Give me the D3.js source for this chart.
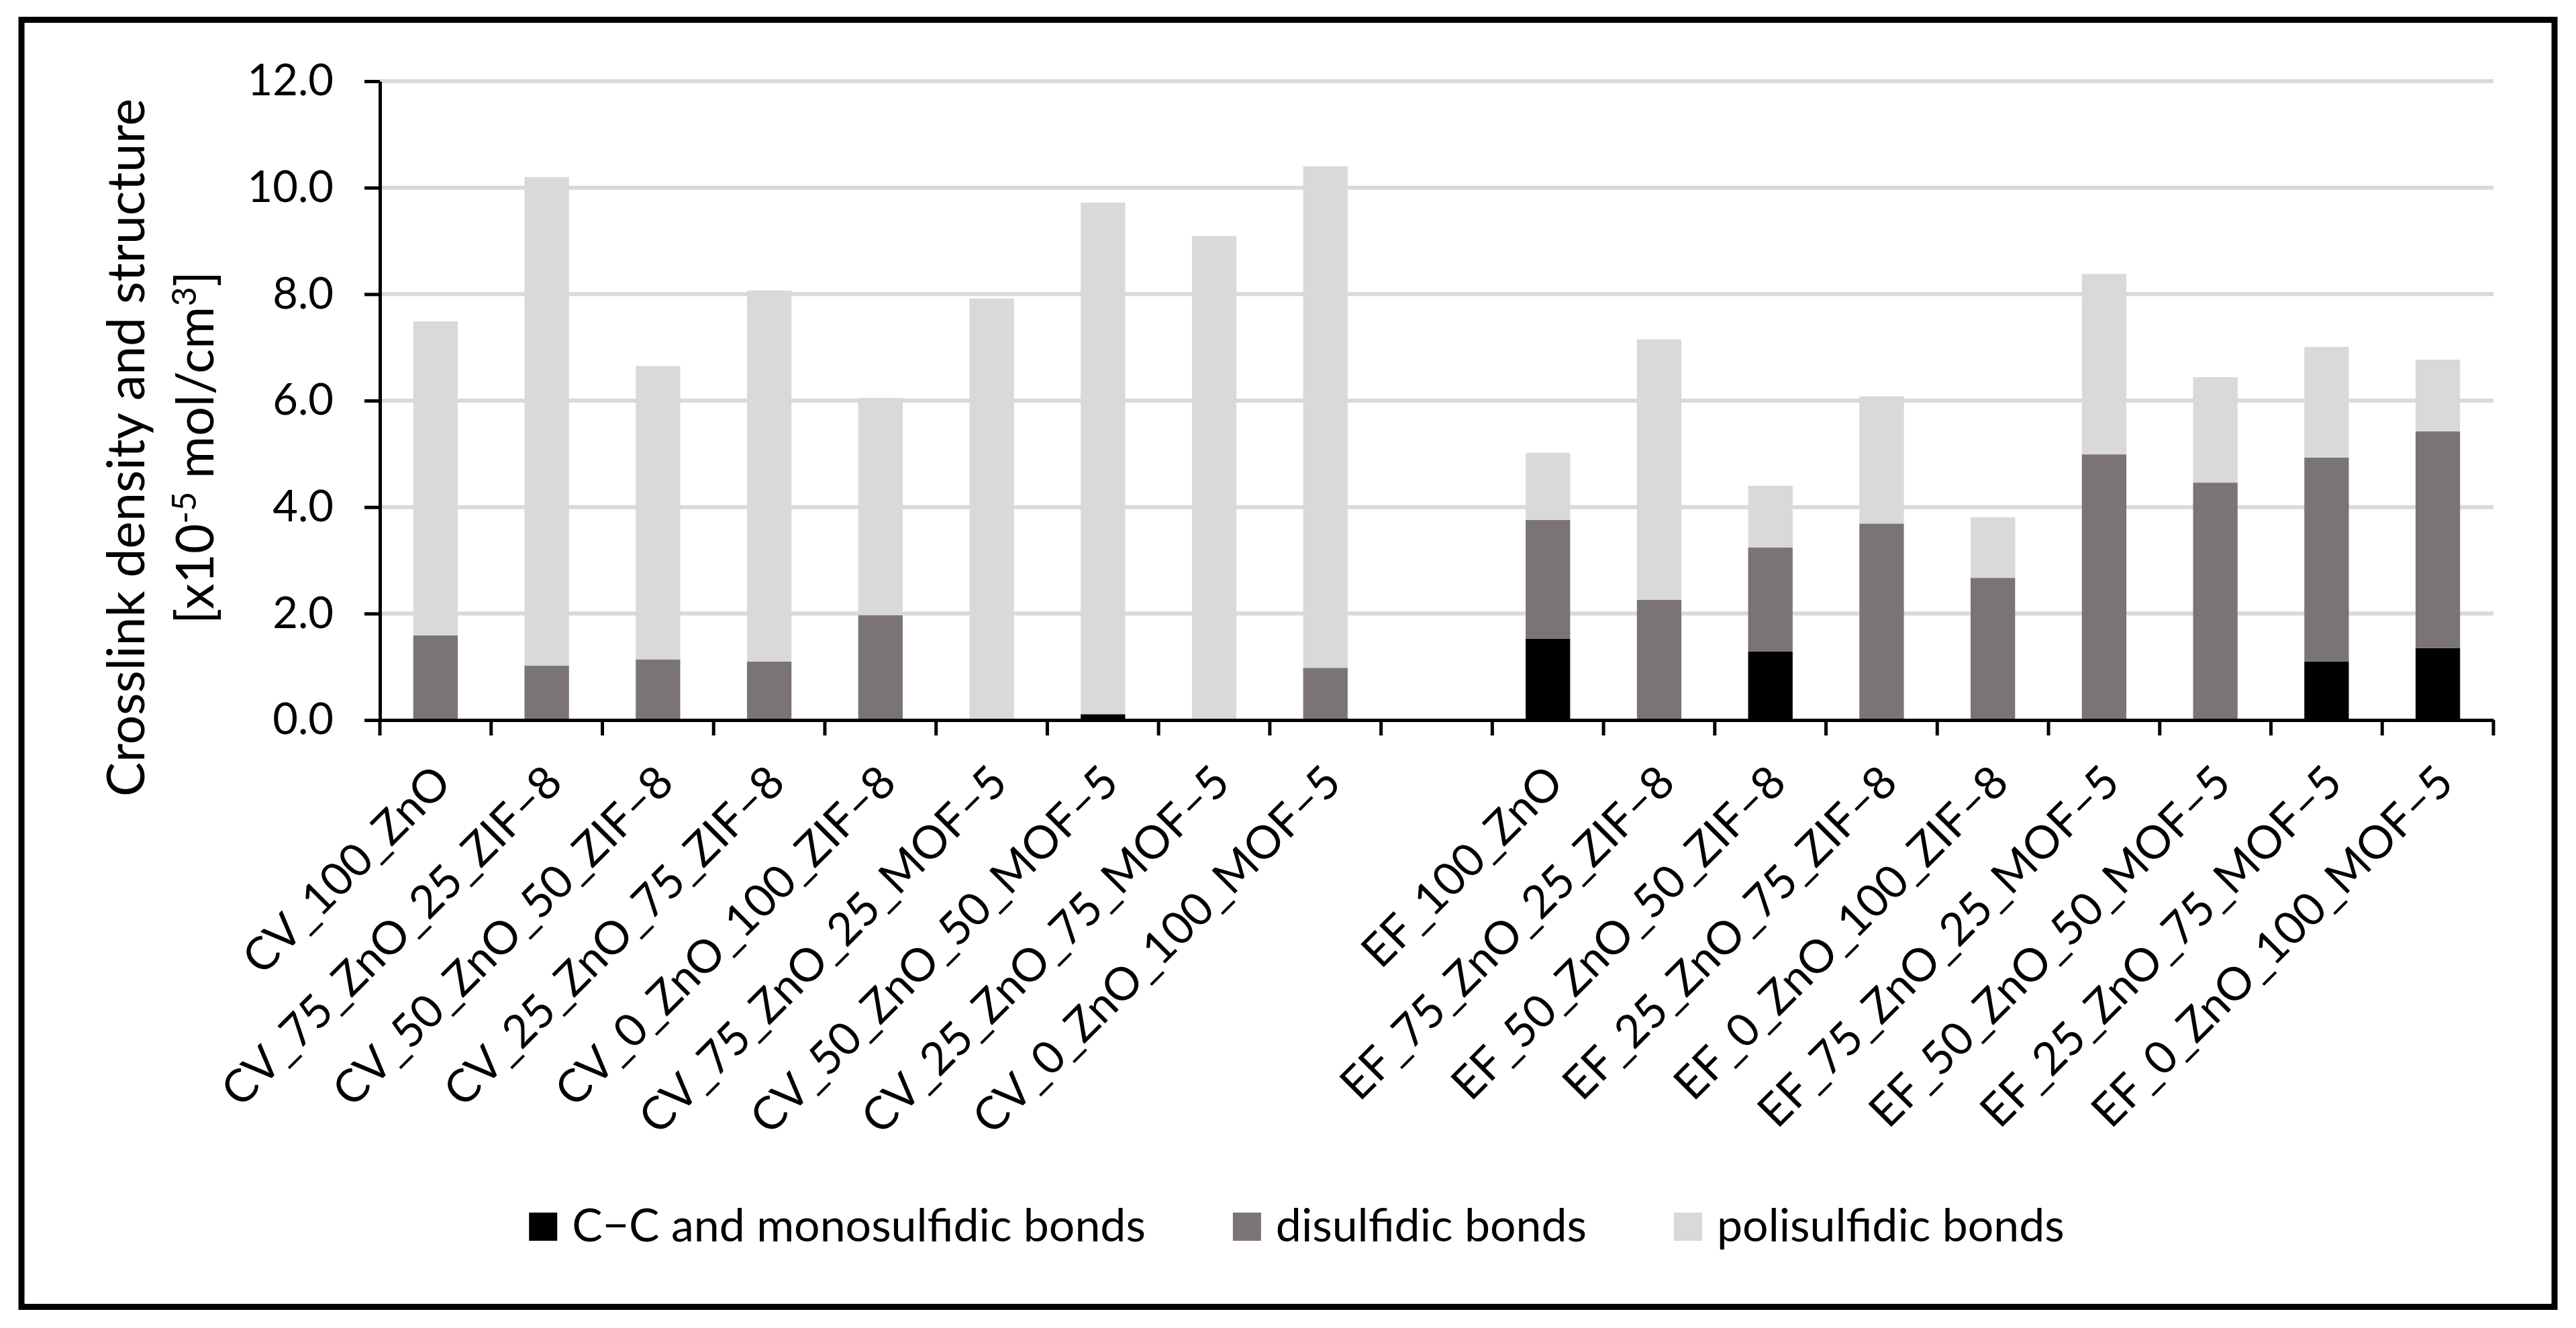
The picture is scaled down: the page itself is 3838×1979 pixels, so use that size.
<!DOCTYPE html>
<html>
<head>
<meta charset="utf-8">
<script src="https://cdnjs.cloudflare.com/ajax/libs/d3/7.8.5/d3.min.js"></script>
<style>
  body { margin: 0; background: #fff; }
  svg text { font-family: Lato, "Open Sans", sans-serif; fill: #000; }
</style>
</head>
<body>
<svg id="chart"></svg>
<script>
// sample names, "" is the empty gap between the CV and EF groups
var categories = [
  "CV_100_ZnO", "CV_75_ZnO_25_ZIF–8", "CV_50_ZnO_50_ZIF–8", "CV_25_ZnO_75_ZIF–8", "CV_0_ZnO_100_ZIF–8",
  "CV_75_ZnO_25_MOF–5", "CV_50_ZnO_50_MOF–5", "CV_25_ZnO_75_MOF–5", "CV_0_ZnO_100_MOF–5",
  "",
  "EF_100_ZnO", "EF_75_ZnO_25_ZIF–8", "EF_50_ZnO_50_ZIF–8", "EF_25_ZnO_75_ZIF–8", "EF_0_ZnO_100_ZIF–8",
  "EF_75_ZnO_25_MOF–5", "EF_50_ZnO_50_MOF–5", "EF_25_ZnO_75_MOF–5", "EF_0_ZnO_100_MOF–5"
]
var monosulfidic = [0, 0, 0, 0, 0, 0, 0.11, 0, 0, 0, 1.53, 0, 1.29, 0, 0, 0, 0, 1.10, 1.35]
var disulfidic = [1.59, 1.02, 1.14, 1.10, 1.97, 0, 0, 0, 0.98, 0, 2.23, 2.26, 1.95, 3.69, 2.67, 4.99, 4.46, 3.83, 4.07]
var polisulfidic = [5.90, 9.18, 5.51, 6.97, 4.08, 7.92, 9.61, 9.09, 9.42, 0, 1.26, 4.89, 1.16, 2.39, 1.14, 3.39, 1.98, 2.08, 1.35]
var seriesNames = ["C−C and monosulfidic bonds", "disulfidic bonds", "polisulfidic bonds"]
var yTicks = [0, 2, 4, 6, 8, 10, 12]

var colors = ["#000000", "#7a7474", "#d9d9d9"]
var keys = ["mono", "di", "poli"]

var dimensions = {
  width: 3838,
  height: 1979,
  margin: {
    top: 121,
    bottom: 906,
    right: 123,
    left: 566
  }
}

var data = categories.map((c, i) => {
  return {
    name: c,
    mono: monosulfidic[i],
    di: disulfidic[i],
    poli: polisulfidic[i]
  }
})
console.log(data)

var svg = d3.select("#chart")
  .attr("width", dimensions.width)
  .attr("height", dimensions.height)

// outer frame
svg.append("rect")
  .attr("x", 32)
  .attr("y", 29.5)
  .attr("width", dimensions.width - 64)
  .attr("height", dimensions.height - 61)
  .attr("fill", "none")
  .attr("stroke", "#000")
  .attr("stroke-width", 9)

var xScale = d3.scaleBand()
  .domain(categories)
  .range([dimensions.margin.left, dimensions.width - dimensions.margin.right])
  .paddingInner(0.6)
  .paddingOuter(0.3)
var yScale = d3.scaleLinear()
  .domain([0, 12])
  .range([dimensions.height - dimensions.margin.bottom, dimensions.margin.top])

// gridlines
svg.append("g")
  .selectAll("line")
  .data(yTicks.filter(d => d > 0))
  .enter()
  .append("line")
  .attr("x1", dimensions.margin.left)
  .attr("x2", dimensions.width - dimensions.margin.right)
  .attr("y1", d => yScale(d))
  .attr("y2", d => yScale(d))
  .attr("stroke", "#d9d9d9")
  .attr("stroke-width", 6)

var stacked = d3.stack().keys(keys)(data)

svg.append("g")
  .selectAll("g")
  .data(stacked)
  .enter()
  .append("g")
  .attr("fill", (d, i) => colors[i])
  .selectAll("rect")
  .data(d => d)
  .enter()
  .append("rect")
  .attr("x", d => xScale(d.data.name))
  .attr("width", xScale.bandwidth())
  .attr("y", d => yScale(d[1]))
  .attr("height", d => yScale(d[0]) - yScale(d[1]))

// y axis
var yAxisgen = d3.axisLeft(yScale)
  .tickValues(yTicks)
  .tickFormat(d3.format(".1f"))
  .tickSize(23)
  .tickSizeOuter(0)
  .tickPadding(46)
var yAxis = svg.append("g")
  .attr("transform", `translate(${dimensions.margin.left},0)`)
  .call(yAxisgen)
yAxis.selectAll("path, line").attr("stroke", "#000").attr("stroke-width", 5)
yAxis.selectAll("text").style("font-size", "65px")

// x axis, ticks between the categories like excel does
var baseY = yScale(0)
var xAxisgen = d3.axisBottom(xScale).tickSize(0).tickSizeOuter(0)
var xAxis = svg.append("g")
  .attr("transform", `translate(0,${baseY})`)
  .call(xAxisgen)
xAxis.select(".domain").attr("stroke", "#000").attr("stroke-width", 5)
xAxis.selectAll("text")
  .style("font-size", "68px")
  .attr("text-anchor", "end")
  .attr("y", 0)
  .attr("dy", "0.35em")
  .attr("transform", "translate(10,80) rotate(-45)")

var bounds = categories.map(c => xScale(c) - xScale.step() * xScale.paddingOuter())
bounds.push(xScale.range()[1])
xAxis.selectAll(".bound")
  .data(bounds)
  .enter()
  .append("line")
  .attr("class", "bound")
  .attr("x1", d => d)
  .attr("x2", d => d)
  .attr("y1", 0)
  .attr("y2", 23)
  .attr("stroke", "#000")
  .attr("stroke-width", 5)

// y title, two lines
var titleY = 667
svg.append("text")
  .attr("transform", `translate(215,${titleY}) rotate(-90)`)
  .attr("text-anchor", "middle")
  .style("font-size", "77px")
  .text("Crosslink density and structure")
var t2 = svg.append("text")
  .attr("transform", `translate(318,${titleY}) rotate(-90)`)
  .attr("text-anchor", "middle")
  .style("font-size", "77px")
t2.append("tspan").text("[x10")
t2.append("tspan").attr("dy", -26).style("font-size", "50px").text("-5")
t2.append("tspan").attr("dy", 26).text(" mol/cm")
t2.append("tspan").attr("dy", -26).style("font-size", "50px").text("3")
t2.append("tspan").attr("dy", 26).text("]")

// legend
var legend = svg.append("g")
var item = legend.selectAll("g")
  .data(seriesNames)
  .enter()
  .append("g")
item.append("rect")
  .attr("width", 42)
  .attr("height", 42)
  .attr("y", 1807)
  .attr("fill", (d, i) => colors[i])
item.append("text")
  .attr("x", 64)
  .attr("y", 1850)
  .style("font-size", "68px")
  .text(d => d)
var offs = 0
item.each(function () {
  var w = d3.select(this).select("text").node().getComputedTextLength()
  d3.select(this).attr("transform", `translate(${offs},0)`)
  offs += 64 + w + 130
})
offs -= 130
legend.attr("transform", `translate(${1932 - offs / 2},0)`)

svg.node();
</script>
</body>
</html>
